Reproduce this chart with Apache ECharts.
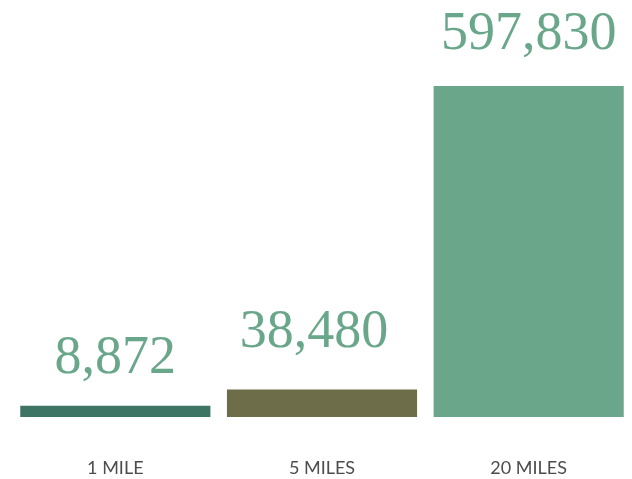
<!DOCTYPE html>
<html><head><meta charset="utf-8">
<script src="https://cdn.jsdelivr.net/npm/echarts@6/dist/echarts.min.js"></script>
<style>html,body{margin:0;padding:0;background:#fff}#c{width:632px;height:479px}</style>
</head><body><div id="c"></div>
<script>
const categories = ['1 MILE', '5 MILES', '20 MILES'];
const values = [8872, 38480, 597830];
const colors = ['#3e7463', '#6d6d49', '#6aa78a'];
const labelOffsets = [[0, 2], [-8, -8], [0, -2]];

const chart = echarts.init(document.getElementById('c'), null, {renderer: 'canvas'});
chart.setOption({
  animation: false,
  grid: {left: 12, right: 0, top: 86, bottom: 62},
  xAxis: {
    type: 'category', data: categories,
    axisLine: {show: false}, axisTick: {show: false},
    axisLabel: {margin: 42, color: '#4d4d4d', fontSize: 18, fontFamily: 'Lato, sans-serif'}
  },
  yAxis: {type: 'value', min: -12000, max: 597830, startValue: -12000, show: false, splitLine: {show: false}},
  series: [{
    type: 'bar', barCategoryGap: '8%',
    data: values.map((v, i) => ({value: v, itemStyle: {color: colors[i]}, label: {offset: labelOffsets[i]}})),
    label: {
      show: true, position: 'top', distance: 22,
      color: '#6aa78a', fontSize: 54, fontFamily: '"Liberation Serif", serif',
      formatter: p => p.value.toLocaleString('en-US')
    }
  }]
});
</script></body></html>
